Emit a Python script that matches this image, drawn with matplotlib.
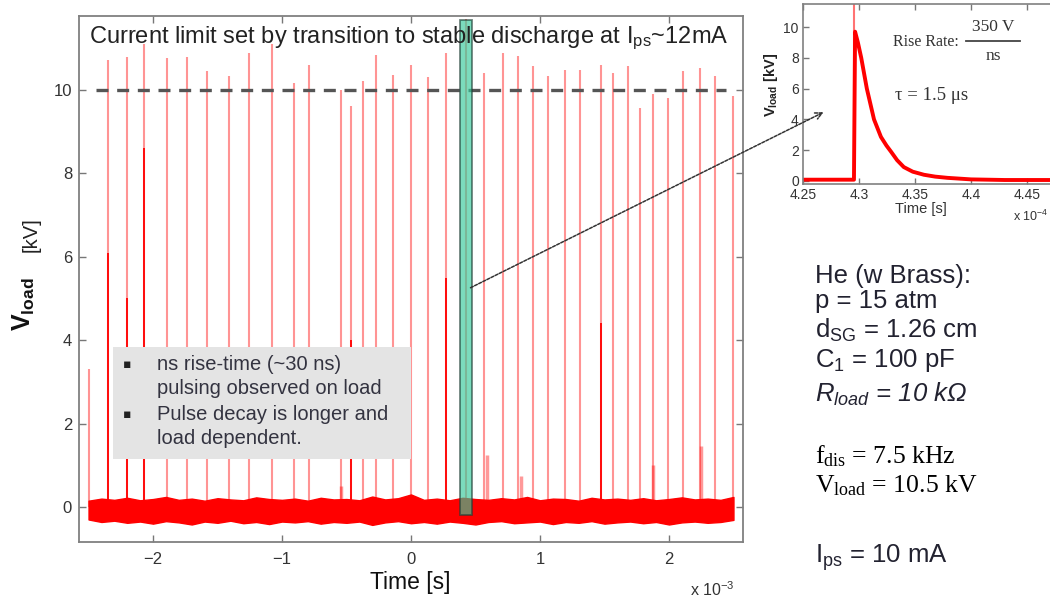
import matplotlib
matplotlib.use("Agg")
import matplotlib.pyplot as plt
from matplotlib.patches import Rectangle, FancyArrowPatch
from matplotlib.lines import Line2D
import numpy as np

plt.rcParams["font.family"] = ["Liberation Sans", "DejaVu Sans"]
plt.rcParams["mathtext.fontset"] = "stix"

W, H = 1050, 601

# pulse times (x 10^-3 s) and peak voltages (kV)
pulse_t = [-2.496, -2.349, -2.202, -2.070, -1.891, -1.736, -1.581, -1.411, -1.256, -1.078,
           -0.907, -0.791, -0.543, -0.465, -0.372, -0.271, -0.140, 0.000, 0.132, 0.271,
           0.426, 0.566, 0.713, 0.829, 0.946, 1.062, 1.194, 1.310, 1.473, 1.566,
           1.682, 1.775, 1.876, 1.992, 2.109, 2.240, 2.357, 2.496]
pulse_v = [3.3, 10.72, 10.78, 11.1, 10.76, 10.78, 10.46, 10.34, 10.88, 11.1,
           10.17, 10.6, 10.0, 9.62, 10.22, 10.84, 10.36, 10.6, 10.3, 10.88,
           11.7, 10.41, 10.88, 10.82, 10.56, 10.32, 10.47, 10.47, 10.6, 10.4,
           10.56, 9.57, 9.9, 9.8, 10.46, 10.53, 10.34, 9.86]

# pulses whose lower part is drawn saturated
dark_t = [-2.349, -2.202, -2.070, -0.465, 0.271, 1.473]
dark_v = [6.1, 5.0, 8.6, 4.0, 5.5, 4.4]

# small secondary bumps
bump_t = [-0.54, 0.59, 0.85, 1.88, 2.25]
bump_v = [0.5, 1.25, 0.75, 1.0, 1.45]

# noise band envelope
band_t = [-2.5, -2.4, -2.3, -2.2, -2.1, -2.0, -1.9, -1.8, -1.7, -1.6,
          -1.5, -1.4, -1.3, -1.2, -1.1, -1.0, -0.9, -0.8, -0.7, -0.6,
          -0.5, -0.4, -0.3, -0.2, -0.1, 0.0, 0.1, 0.2, 0.3, 0.4,
          0.5, 0.6, 0.7, 0.8, 0.9, 1.0, 1.1, 1.2, 1.3, 1.4,
          1.5, 1.6, 1.7, 1.8, 1.9, 2.0, 2.1, 2.2, 2.3, 2.4, 2.5]
band_hi = [0.15, 0.20, 0.17, 0.22, 0.16, 0.19, 0.24, 0.17, 0.20, 0.15,
           0.21, 0.18, 0.16, 0.23, 0.19, 0.17, 0.20, 0.15, 0.22, 0.18,
           0.19, 0.16, 0.25, 0.18, 0.21, 0.30, 0.17, 0.20, 0.16, 0.22,
           0.19, 0.17, 0.21, 0.18, 0.24, 0.16, 0.20, 0.19, 0.15, 0.22,
           0.18, 0.20, 0.17, 0.21, 0.16, 0.19, 0.23, 0.18, 0.20, 0.17, 0.24]
band_lo = [-0.30, -0.36, -0.33, -0.38, -0.35, -0.40, -0.34, -0.37, -0.42, -0.35,
           -0.38, -0.33, -0.39, -0.36, -0.41, -0.35, -0.37, -0.34, -0.40, -0.36,
           -0.38, -0.35, -0.43, -0.37, -0.34, -0.39, -0.36, -0.40, -0.35, -0.38,
           -0.42, -0.36, -0.34, -0.39, -0.37, -0.35, -0.41, -0.36, -0.38, -0.34,
           -0.40, -0.37, -0.35, -0.39, -0.36, -0.42, -0.37, -0.35, -0.38, -0.36, -0.31]

# zoomed pulse (x 10^-4 s)
ins_t = [4.25, 4.2955, 4.2965, 4.299, 4.302, 4.307, 4.3134, 4.3196, 4.3245, 4.3286,
         4.334, 4.340, 4.348, 4.358, 4.368, 4.379, 4.40, 4.43, 4.49]
ins_v = [0.08, 0.08, 9.7, 9.0, 8.0, 6.0, 4.0, 2.86, 2.3, 1.9,
         1.35, 0.9, 0.6, 0.4, 0.28, 0.2, 0.1, 0.06, 0.06]
ins_rise_t = 4.2955

limit_v = 10.0
zoom_window = (0.38, 0.473)


def px(x, y):
    return x / W, 1 - y / H


fig = plt.figure(figsize=(10.5, 6.01), dpi=100)

# ---- main axes
ax = fig.add_axes([79 / W, 1 - 542 / H, (743 - 79) / W, (542 - 16) / H])
ax.fill_between(band_t, band_lo, band_hi, color="red", lw=1.0, zorder=2)
ax.vlines(pulse_t, 0, pulse_v, color="red", alpha=0.42, lw=1.5, zorder=3)
ax.vlines(dark_t, 0, dark_v, color="red", lw=1.3, zorder=3)
ax.vlines(bump_t, 0, bump_v, color="red", alpha=0.4, lw=2.5, zorder=3)
ax.plot([-2.44, 2.44], [limit_v, limit_v], color="#555555", lw=2.4,
        ls=(0, (3.6, 2.6)), zorder=4)

ax.set_xlim(-2.574, 2.574)
ax.set_ylim(-0.84, 11.77)
ax.set_xticks([-2, -1, 0, 1, 2])
ax.set_yticks([0, 2, 4, 6, 8, 10])
ax.tick_params(direction="in", top=True, right=True, length=5, width=1,
               color="#777777", labelcolor="#333333", labelsize=12)
ax.tick_params(axis="y", pad=5)
ax.tick_params(axis="x", pad=7)
for s in ax.spines.values():
    s.set_color("#808080")
    s.set_linewidth(1.3)

fig.text(*px(89, 38), r"Current limit set by transition to stable discharge at I$\mathregular{_{ps}}$~12mA",
         fontsize=17, color="#222222", va="center", ha="left", zorder=6)

# note box
ax.add_patch(Rectangle(px(113, 459), 298 / W, 112 / H, transform=fig.transFigure,
                       facecolor="#e4e4e4", edgecolor="none", zorder=5))
box_lines = [("▪", "ns rise-time (~30 ns)", 365), ("", "pulsing observed on load", 389),
             ("▪", "Pulse decay is longer and", 414), ("", "load dependent.", 439)]
for b, txt, yy in box_lines:
    if b:
        fig.text(*px(127, yy), b, fontsize=9, color="#222222", ha="center", va="center",
                 family=["DejaVu Sans"], zorder=7)
    fig.text(*px(157, yy), txt, fontsize=14.5, color="#333340", ha="left", va="center", zorder=7)

# zoom window
ax.add_patch(Rectangle((zoom_window[0], -0.19), zoom_window[1] - zoom_window[0], 11.87,
                       facecolor="#35c99a", alpha=0.65, edgecolor="#1f3f35", lw=1.3, zorder=8))

fig.text(*px(24, 304), r"V$\mathregular{_{load}}$", rotation=90, fontsize=18, fontweight="bold",
         ha="center", va="center", color="#111111")
fig.text(*px(31, 235), "[kV]", rotation=90, fontsize=14.5, ha="center", va="center", color="#222222")
fig.text(*px(410, 582), "Time [s]", fontsize=16.5, ha="center", va="center", color="#111111")
fig.text(*px(690, 590), r"x 10$\mathregular{^{-3}}$", fontsize=11.5, ha="left", va="center", color="#333333")

# ---- inset
ins = fig.add_axes([803 / W, 1 - 184 / H, (1064 - 803) / W, (184 - 4) / H])
ins.vlines([ins_rise_t], 0, 11.6, color="red", alpha=0.55, lw=1.5)
ins.plot(ins_t, ins_v, color="red", lw=2.8, solid_joinstyle="round")
ins.set_xlim(4.25, 4.25 + (1064 - 803) / 1120)
ins.set_ylim(-0.2, 11.5)
ins.set_xticks([4.25, 4.3, 4.35, 4.4, 4.45])
ins.set_xticklabels(["4.25", "4.3", "4.35", "4.4", "4.45"])
ins.set_yticks([0, 2, 4, 6, 8, 10])
ins.tick_params(direction="in", top=True, right=True, length=4, width=1,
                color="#777777", labelcolor="#333333", labelsize=10, pad=3)
for s in ins.spines.values():
    s.set_color("#808080")
    s.set_linewidth(1.2)
fig.text(*px(921, 209), "Time [s]", fontsize=10.5, color="#333333", ha="center", va="center")
fig.text(*px(771, 85), r"V$\mathregular{_{load}}$ [kV]", rotation=90, fontsize=10.5, fontweight="bold",
         ha="center", va="center", color="#222222")
fig.text(*px(1013, 216), r"x 10$\mathregular{^{-4}}$", fontsize=9, ha="left", va="center", color="#333333")

# rise rate written as a stacked fraction
fig.text(*px(893, 42), "Rise Rate:", fontsize=11.5, family="Liberation Serif",
         ha="left", va="center", color="#333333")
fig.text(*px(993, 27), "350 V", fontsize=12.5, family="Liberation Serif",
         ha="center", va="center", color="#333333")
fig.text(*px(993, 56), "ns", fontsize=12.5, family="Liberation Serif",
         ha="center", va="center", color="#333333")
fig.add_artist(Line2D([966 / W, 1020 / W], [1 - 41 / H, 1 - 41 / H], transform=fig.transFigure,
                      color="#444444", lw=1.3))
fig.text(*px(895, 95), "τ = 1.5 μs", fontsize=13.5, family="Liberation Serif",
         ha="left", va="center", color="#333333")

# arrow from zoom window to inset
fig.add_artist(FancyArrowPatch(px(468, 289), px(826, 111), transform=fig.transFigure,
                               arrowstyle="->", mutation_scale=12, color="#333333",
                               lw=1.1, ls=(0, (2, 1))))

# ---- right hand notes
for txt, yy in [("He (w Brass):", 283), ("p = 15 atm", 308),
                (r"d$\mathregular{_{SG}}$ = 1.26 cm", 338), (r"C$\mathregular{_{1}}$ = 100 pF", 367)]:
    fig.text(*px(815, yy), txt, fontsize=18.5, color="#222230", ha="left", va="baseline")
fig.text(*px(815, 402), r"R$\mathregular{_{load}}$ = 10 k$\mathregular{\Omega}$", fontsize=18.5,
         style="italic", color="#222230", ha="left", va="baseline")
fig.text(*px(815, 463), r"f$\mathregular{_{dis}}$ = 7.5 kHz", fontsize=18.5, family="Liberation Serif",
         color="black", ha="left", va="baseline")
fig.text(*px(815, 492), r"V$\mathregular{_{load}}$ = 10.5 kV", fontsize=18.5, family="Liberation Serif",
         color="black", ha="left", va="baseline")
fig.text(*px(815, 563), r"I$\mathregular{_{ps}}$ = 10 mA", fontsize=18.5, color="#222230",
         ha="left", va="baseline")

fig.savefig("out.png", dpi=100)
